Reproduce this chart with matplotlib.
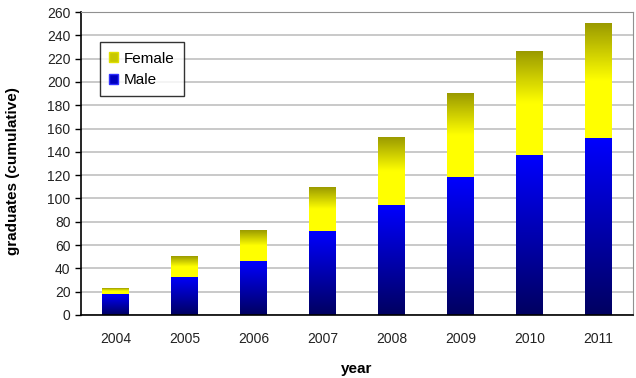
import matplotlib.pyplot as plt
import numpy as np
from matplotlib.colors import LinearSegmentedColormap
from matplotlib.patches import Patch

# data
years = ["2004", "2005", "2006", "2007", "2008", "2009", "2010", "2011"]
male = [18, 33, 46, 72, 94, 118, 137, 152]
total = [23, 51, 72, 109, 152, 190, 226, 250]
female = [t - m for t, m in zip(total, male)]

plt.rcParams["font.family"] = ["Liberation Sans", "DejaVu Sans"]

fig = plt.figure(figsize=(6.36, 3.78), dpi=100)
ax = fig.add_axes([81 / 636, 1 - 315 / 378, 552 / 636, 303 / 378])

x = np.arange(len(years))
w = 0.39
male_bars = ax.bar(x, male, w, color="none", zorder=2)
female_bars = ax.bar(x, female, w, bottom=male, color="none", zorder=2)

# gradients: bottom -> top
male_cmap = LinearSegmentedColormap.from_list("m", ["#000060", "#0000ff"])
female_cmap = LinearSegmentedColormap.from_list("f", ["#ffff00", "#ffff00", "#9a9a00"])
grad = np.linspace(0, 1, 256).reshape(-1, 1)
for bars, cmap in [(male_bars, male_cmap), (female_bars, female_cmap)]:
    for b in bars:
        x0, y0 = b.get_x(), b.get_y()
        ax.imshow(grad, cmap=cmap, origin="lower", aspect="auto", zorder=2,
                  extent=[x0, x0 + b.get_width(), y0, y0 + b.get_height()])

ax.set_xlim(-0.5, len(years) - 0.5)
ax.set_ylim(0, 260)
ax.set_yticks(range(0, 261, 20))
ax.set_xticks(x)
ax.set_xticklabels(years)
ax.yaxis.grid(True, color="#c0c0c0", linewidth=1.2, zorder=0)
ax.set_axisbelow(True)
ax.tick_params(axis="x", length=0, pad=12, labelsize=10, colors="#222222")
ax.tick_params(axis="y", length=4, width=1, labelsize=10, colors="black",
               labelcolor="#222222")
for s in ["top", "right"]:
    ax.spines[s].set_color("#909090")
for s in ["left", "bottom"]:
    ax.spines[s].set_color("black")
    ax.spines[s].set_linewidth(1.2)

ax.set_xlabel("year", fontsize=11, fontweight="bold", labelpad=12)
ax.set_ylabel("graduates (cumulative)", fontsize=11, fontweight="bold")
ax.yaxis.set_label_coords(-0.11, 0.475)

handles = [Patch(facecolor="#c8c800", edgecolor="#e0e000"),
           Patch(facecolor="#0000c0", edgecolor="#3030ff")]
leg = ax.legend(handles, ["Female", "Male"], loc="upper left",
                bbox_to_anchor=(0.02, 0.925), fontsize=11, frameon=True,
                fancybox=False, edgecolor="black", handlelength=0.6,
                handleheight=0.6, handletextpad=0.4, borderpad=0.6,
                labelspacing=0.5)
leg.get_frame().set_linewidth(1.0)

fig.savefig("out.png", dpi=100)
